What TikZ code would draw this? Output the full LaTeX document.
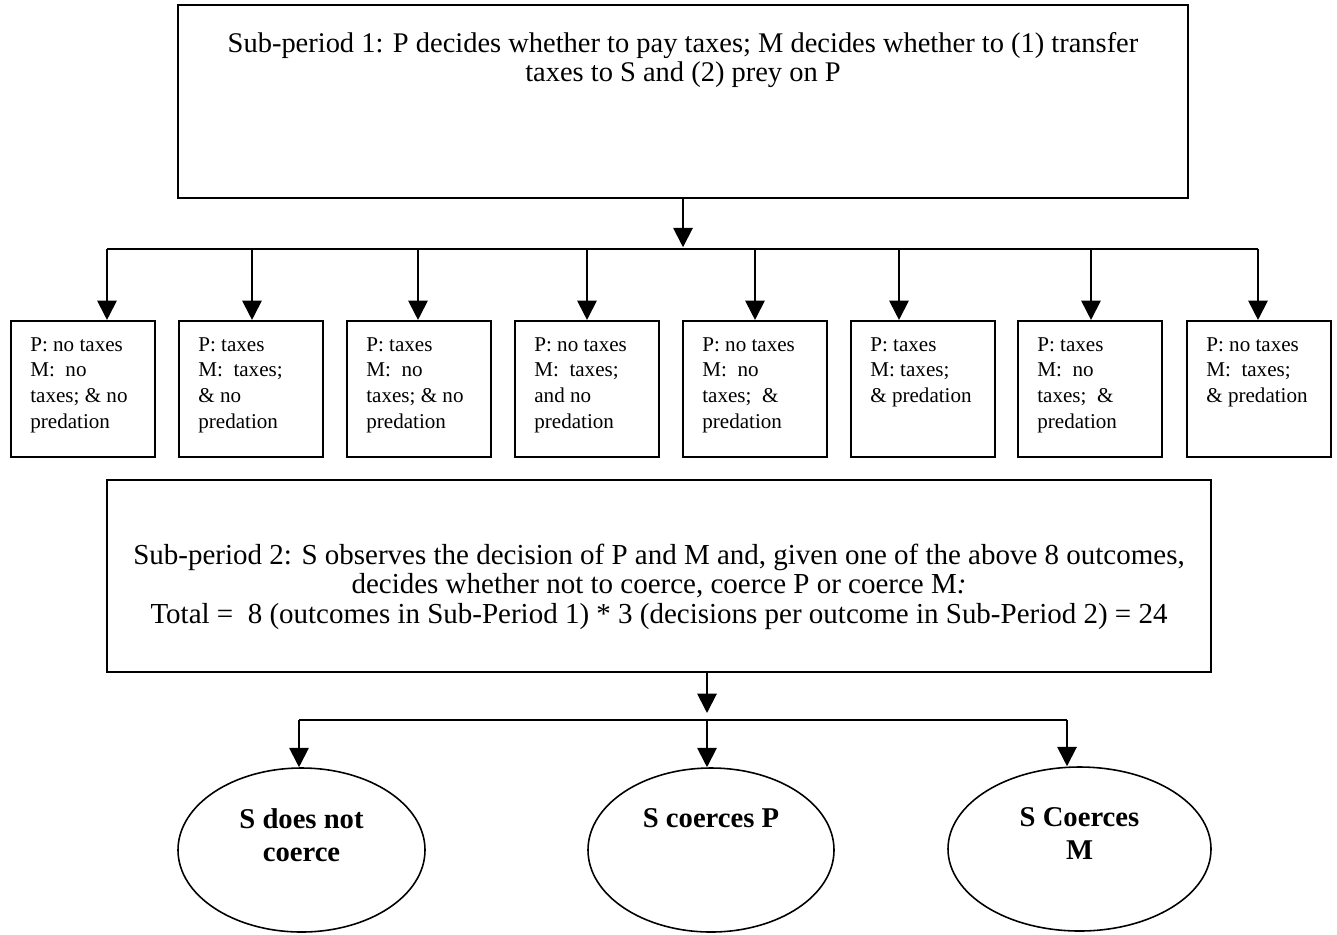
\documentclass[tikz,border=0pt]{standalone}
\usepackage{fontspec}
\setmainfont{Liberation Serif}
\usetikzlibrary{arrows.meta,fit,shapes.geometric}
\begin{document}
\begin{tikzpicture}[x=0.02cm,y=-0.02cm,
  boxframe/.style={draw, line width=1.2pt, inner sep=0pt},
  ovalframe/.style={draw, ellipse, line width=0.9pt, inner sep=0pt},
  wire/.style={line width=1.1pt},
  arr/.style={wire, -{Triangle[width=11pt,length=11pt]}},
  bigtext/.style={font=\fontsize{16.2}{16.5}\selectfont, align=center, inner sep=0pt, anchor=north},
  smalltext/.style={font=\fontsize{12}{14.6}\selectfont, align=left, inner sep=0pt, anchor=north west},
  ovaltext/.style={font=\fontsize{16.3}{18.7}\selectfont\bfseries, align=center, inner sep=0pt, anchor=north}]
\useasboundingbox (0,0) rectangle (1337,934);
\fill[white] (0,0) rectangle (1337,934);

% top box
\node[boxframe, fit={(178,5) (1188,198)}] (top) {};
\node[bigtext] (toptxt) at (683,32) {Sub-period 1: P decides whether to pay taxes; M decides whether to (1) transfer\\taxes to S and (2) prey on P};

% outcome boxes
\node[boxframe, fit={(11,321) (155,457)}] (b1) {};
\node[boxframe, fit={(179,321) (323,457)}] (b2) {};
\node[boxframe, fit={(347,321) (491,457)}] (b3) {};
\node[boxframe, fit={(515,321) (659,457)}] (b4) {};
\node[boxframe, fit={(683,321) (827,457)}] (b5) {};
\node[boxframe, fit={(851,321) (995,457)}] (b6) {};
\node[boxframe, fit={(1018,321) (1162,457)}] (b7) {};
\node[boxframe, fit={(1187,321) (1331,457)}] (b8) {};

\node[smalltext] (t1) at (30,337) {P: no taxes\\M:\ \ no\\taxes; \& no\\predation};
\node[smalltext] (t2) at (198,337) {P: taxes\\M:\ \ taxes;\\\& no\\predation};
\node[smalltext] (t3) at (366,337) {P: taxes\\M:\ \ no\\taxes; \& no\\predation};
\node[smalltext] (t4) at (534,337) {P: no taxes\\M:\ \ taxes;\\and no\\predation};
\node[smalltext] (t5) at (702,337) {P: no taxes\\M:\ \ no\\taxes;\ \ \&\\predation};
\node[smalltext] (t6) at (870,337) {P: taxes\\M: taxes;\\\& predation};
\node[smalltext] (t7) at (1037,337) {P: taxes\\M:\ \ no\\taxes;\ \ \&\\predation};
\node[smalltext] (t8) at (1206,337) {P: no taxes\\M:\ \ taxes;\\\& predation};

% sub-period 2 box
\node[boxframe, fit={(107,480) (1211,672)}] (sp2) {};
\node[bigtext, font=\fontsize{16.5}{16.6}\selectfont] (sp2txt) at (659,544) {Sub-period 2: S observes the decision of P and M and, given one of the above 8 outcomes,\\decides whether not to coerce, coerce P or coerce M\textit{:}\\Total =\ \ 8 (outcomes in Sub-Period 1) * 3 (decisions per outcome in Sub-Period 2) = 24};

% ellipses
\node[ovalframe, minimum width={247*0.02cm}, minimum height={164*0.02cm}] (e1) at (301.5,850) {};
\node[ovalframe, minimum width={246*0.02cm}, minimum height={164*0.02cm}] (e2) at (711,850) {};
\node[ovalframe, minimum width={263*0.02cm}, minimum height={164*0.02cm}] (e3) at (1079.5,849) {};
\node[ovaltext] (et1) at (301.5,808) {S does not\\coerce};
\node[ovaltext] (et2) at (711,808) {S coerces P};
\node[ovaltext] (et3) at (1079.5,807) {S Coerces\\M};

% upper connectors
\coordinate (j1) at (683,249);
\draw[arr, shorten >=1pt] (top.south) -- (j1);
\foreach \ax [count=\i] in {107,252,418,587,755,899,1091,1258}
  \coordinate (a\i) at (\ax,249);
\draw[wire] (a1) -- (a8);
\foreach \i in {1,...,8}
  \draw[arr] (a\i) -- (a\i |- b\i.north);

% lower connectors
\coordinate (c1) at (299,720);
\coordinate (c2) at (707,720);
\coordinate (c3) at (1067,720);
\draw[arr, shorten >=4pt] (sp2.south -| c2) -- (c2);
\draw[wire] (c1) -- (c3);
\foreach \i in {1,2,3}
  \draw[arr] (c\i) -- (c\i |- e\i.north);
\end{tikzpicture}
\end{document}
